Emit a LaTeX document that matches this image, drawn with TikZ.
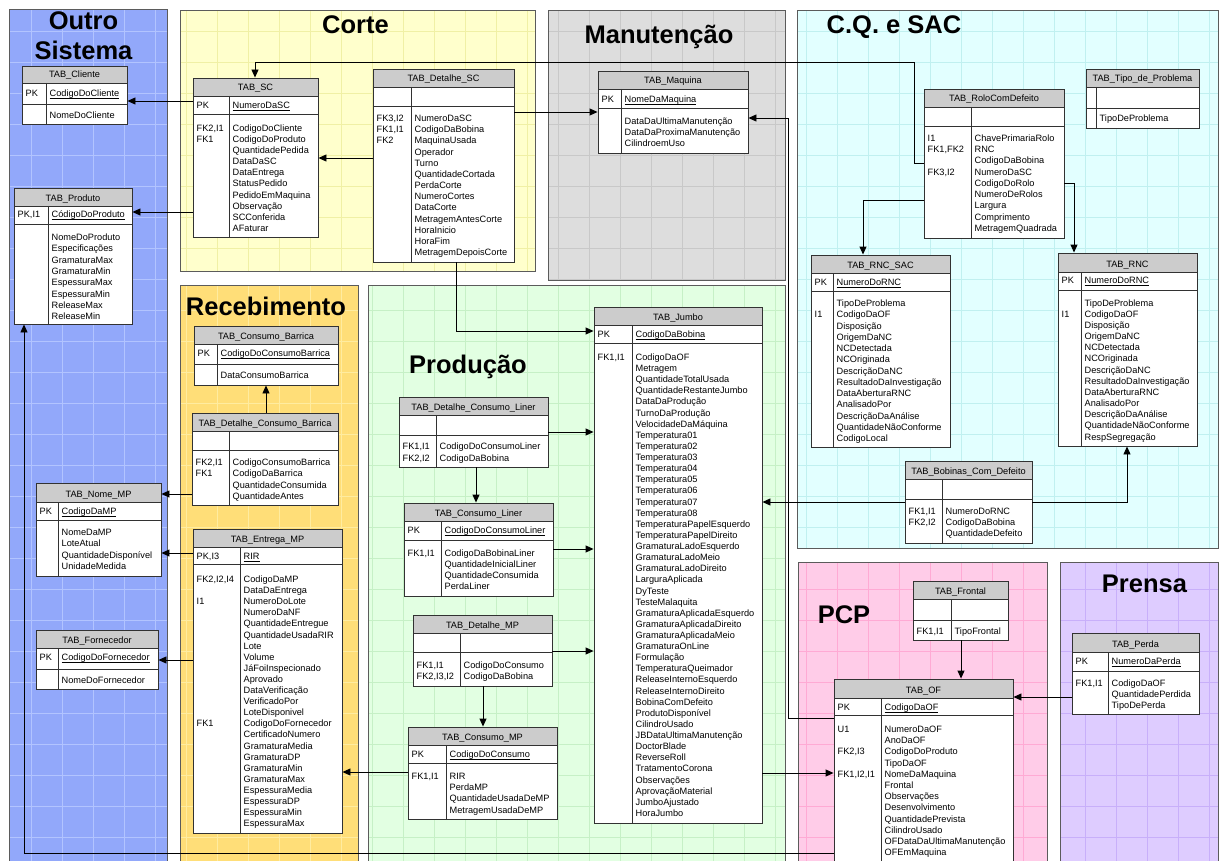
\documentclass[tikz,border=0pt]{standalone}
\usepackage{fontspec}
\setmainfont{Liberation Sans}
\usetikzlibrary{arrows.meta,fit}
\definecolor{cblue}{RGB}{146,168,250}
\definecolor{gblue}{RGB}{178,196,255}
\definecolor{cyel}{RGB}{255,255,204}
\definecolor{gyel}{RGB}{240,240,165}
\definecolor{cgray}{RGB}{221,221,221}
\definecolor{ggray}{RGB}{200,200,200}
\definecolor{ccyan}{RGB}{226,255,255}
\definecolor{gcyan}{RGB}{192,240,240}
\definecolor{cgold}{RGB}{255,222,120}
\definecolor{ggold}{RGB}{255,236,160}
\definecolor{cgreen}{RGB}{226,255,226}
\definecolor{ggreen}{RGB}{198,240,198}
\definecolor{cpink}{RGB}{255,204,232}
\definecolor{gpink}{RGB}{255,170,212}
\definecolor{clav}{RGB}{222,204,255}
\definecolor{glav}{RGB}{200,175,250}
\definecolor{hdrgray}{RGB}{204,204,204}
\definecolor{lineclr}{RGB}{50,50,50}
\newcommand\tabfont{\fontsize{9.2}{11}\selectfont}
\newcommand\bigtitlefont{\bfseries\fontsize{25.5}{28}\selectfont}
\newcommand\ulx[1]{\setbox0\hbox{#1}\rlap{\rule[-1.7pt]{\wd0}{0.6pt}}\box0}
% region: x1 y1 x2 y2 fill grid
\newcommand\region[6]{%
  \fill[#5] (#1,#2) rectangle (#3,#4);
  \begin{scope}
    \clip (#1,#2) rectangle (#3,#4);
    \draw[#6, line width=0.6pt] (#1,#4) grid[step=31pt] (#3,#2);
  \end{scope}
  \draw[regborder] (#1,#2) rectangle (#3,#4);}
% table frame: name x1 x2 xd ytop yh ypk ybot title
\newcommand\tbl[9]{%
  \fill[white] (#2,#5) rectangle (#3,#8);
  \fill[hdrgray] (#2,#5) rectangle (#3,#6);
  \draw[tline] (#2,#6) -- (#3,#6);
  \draw[tline] (#2,#7) -- (#3,#7);
  \draw[tline] (#4,#6) -- (#4,#8);
  \node[tframe, fit={(#2,#5) (#3,#8)}] (#1) {};
  \node[hdrtxt] (#1-t) at ({(#2+#3)/2},{#6-5}) {#9};}
% pk row: name x1 xd y key field
\newcommand\pkrow[6]{%
  \node[txt] (#1-pk) at ({#2+3.5},#4) {#5};
  \node[txt] (#1-pf) at ({#3+3.5},#4) {\ulx{#6}};}
% lines: prefix x y spacing list
\newcommand\lines[5]{%
  \foreach \itm [count=\i from 0] in {#5} {\node[txt] (#1\i) at (#2,{#3+\i*#4}) {\itm};}}
\begin{document}
\begin{tikzpicture}[x=1pt,y=-1pt,
  regborder/.style={draw=lineclr!80, line width=0.9pt},
  tline/.style={draw=lineclr, line width=0.8pt},
  tframe/.style={draw=lineclr, line width=0.9pt, inner sep=0pt, rectangle},
  hdrtxt/.style={anchor=base, inner sep=0pt, font=\tabfont},
  txt/.style={anchor=base west, inner sep=0pt, font=\tabfont},
  ttl/.style={anchor=base, inner sep=0pt, font=\bigtitlefont},
  fk/.style={draw=black, line width=0.9pt, -{Triangle[length=8pt,width=7pt]}}]
\useasboundingbox (0,0) rectangle (1223,861);
\clip (0,0) rectangle (1223,861);
\fill[white] (0,0) rectangle (1223,861);
% regions
\region{9}{9}{167}{875}{cblue}{gblue}
\region{180}{10}{535}{271}{cyel}{gyel}
\region{548}{10}{785}{280}{cgray}{ggray}
\region{797}{10}{1218}{548}{ccyan}{gcyan}
\region{180}{285}{358}{875}{cgold}{ggold}
\region{368}{285}{785}{875}{cgreen}{ggreen}
\region{798}{562}{1047}{875}{cpink}{gpink}
\region{1060}{562}{1218}{875}{clav}{glav}
% titles
\node[ttl] (t-outro) at (83.5,30) {Outro};
\node[ttl] (t-sistema) at (83.5,60) {Sistema};
\node[ttl] (t-corte) at (355.5,34) {Corte};
\node[ttl] (t-manut) at (659,44) {Manutenção};
\node[ttl] (t-cq) at (894,34) {C.Q. e SAC};
\node[ttl] (t-receb) at (266,315) {Recebimento};
\node[ttl] (t-prod) at (468,373) {Produção};
\node[ttl] (t-pcp) at (844,623) {PCP};
\node[ttl] (t-prensa) at (1144.5,592) {Prensa};
% ---- tables ----
\tbl{cliente}{22}{127}{46}{66}{83}{104}{124}{TAB\_Cliente}
\pkrow{cliente}{22}{46}{96.8}{PK}{CodigoDoCliente}
\lines{cliente-f}{49.5}{118.5}{11.2}{NomeDoCliente}

\tbl{produto}{14}{132}{48}{188}{206}{224}{324}{TAB\_Produto}
\pkrow{produto}{14}{48}{217.5}{PK,I1}{CódigoDoProduto}
\lines{produto-f}{51.5}{240.5}{11.3}{NomeDoProduto,Especificações,GramaturaMax,GramaturaMin,EspessuraMax,EspessuraMin,ReleaseMax,ReleaseMin}

\tbl{sc}{193}{318}{229}{78}{96}{114}{237}{TAB\_SC}
\pkrow{sc}{193}{229}{108.5}{PK}{NumeroDaSC}
\lines{sc-k}{196.5}{131.5}{11.1}{{FK2,I1},FK1}
\lines{sc-f}{232.5}{131.5}{11.1}{CodigoDoCliente,CodigoDoProduto,QuantidadePedida,DataDaSC,DataEntrega,StatusPedido,PedidoEmMaquina,Observação,SCConferida,AFaturar}

\tbl{detsc}{373}{514}{411}{69}{87}{106}{262}{TAB\_Detalhe\_SC}
\lines{detsc-k}{376.5}{121.5}{11.17}{{FK3,I2},{FK1,I1},FK2}
\lines{detsc-f}{414.5}{121.5}{11.17}{NumeroDaSC,CodigoDaBobina,MaquinaUsada,Operador,Turno,QuantidadeCortada,PerdaCorte,NumeroCortes,DataCorte,MetragemAntesCorte,HoraInicio,HoraFim,MetragemDepoisCorte}

\tbl{maquina}{598}{748}{621}{71}{89}{108}{153}{TAB\_Maquina}
\pkrow{maquina}{598}{621}{102.5}{PK}{NomeDaMaquina}
\lines{maquina-f}{624.5}{124.5}{11}{DataDaUltimaManutenção,DataDaProximaManutenção,CilindroemUso}

\tbl{tipo}{1086}{1199}{1096}{69}{87}{108}{128}{TAB\_Tipo\_de\_Problema}
\lines{tipo-f}{1099.5}{121.5}{11.2}{TipoDeProblema}

\tbl{rolo}{924}{1064}{971}{89}{107}{126}{238}{TAB\_RoloComDefeito}
\lines{rolo-k}{927.5}{141.5}{11.25}{I1,{FK1,FK2},{},{FK3,I2}}
\lines{rolo-f}{974.5}{141.5}{11.25}{ChavePrimariaRolo,RNC,CodigoDaBobina,NumeroDaSC,CodigoDoRolo,NumeroDeRolos,Largura,Comprimento,MetragemQuadrada}

\tbl{rncsac}{811}{950}{833}{255}{273}{291}{447}{TAB\_RNC\_SAC}
\pkrow{rncsac}{811}{833}{285.5}{PK}{NumeroDoRNC}
\lines{rncsac-k}{814.5}{306.5}{11.25}{{},I1}
\lines{rncsac-f}{836.5}{306.5}{11.25}{TipoDeProblema,CodigoDaOF,Disposição,OrigemDaNC,NCDetectada,NCOriginada,DescriçãoDaNC,ResultadoDaInvestigação,DataAberturaRNC,AnalisadoPor,DescriçãoDaAnálise,QuantidadeNãoConforme,CodigoLocal}

\tbl{rnc}{1058}{1197}{1081}{253}{272}{290}{446}{TAB\_RNC}
\pkrow{rnc}{1058}{1081}{283.5}{PK}{NumeroDoRNC}
\lines{rnc-k}{1061.5}{306}{11.17}{{},I1}
\lines{rnc-f}{1084.5}{306}{11.17}{TipoDeProblema,CodigoDaOF,Disposição,OrigemDaNC,NCDetectada,NCOriginada,DescriçãoDaNC,ResultadoDaInvestigação,DataAberturaRNC,AnalisadoPor,DescriçãoDaAnálise,QuantidadeNãoConforme,RespSegregação}

\tbl{bobdef}{905}{1032}{942}{461}{479}{499}{543}{TAB\_Bobinas\_Com\_Defeito}
\lines{bobdef-k}{908.5}{514.5}{11.1}{{FK1,I1},{FK2,I2}}
\lines{bobdef-f}{945.5}{514.5}{11.1}{NumeroDoRNC,CodigoDaBobina,QuantidadeDefeito}

\tbl{cbarrica}{194}{338}{217}{326}{344}{364}{385}{TAB\_Consumo\_Barrica}
\pkrow{cbarrica}{194}{217}{356.5}{PK}{CodigoDoConsumoBarrica}
\lines{cbarrica-f}{220.5}{378.5}{11.2}{DataConsumoBarrica}

\tbl{dcbarrica}{192}{338}{229}{413}{431}{450}{505}{TAB\_Detalhe\_Consumo\_Barrica}
\lines{dcbarrica-k}{195.5}{465.5}{11.4}{{FK2,I1},FK1}
\lines{dcbarrica-f}{232.5}{465.5}{11.4}{CodigoConsumoBarrica,CodigoDaBarrica,QuantidadeConsumida,QuantidadeAntes}

\tbl{nomemp}{36}{161}{58}{483}{502}{520}{576}{TAB\_Nome\_MP}
\pkrow{nomemp}{36}{58}{514.5}{PK}{CodigoDaMP}
\lines{nomemp-f}{61.5}{535.5}{11.4}{NomeDaMP,LoteAtual,QuantidadeDisponível,UnidadeMedida}

\tbl{entrega}{193}{342}{240}{529}{547}{564}{833}{TAB\_Entrega\_MP}
\pkrow{entrega}{193}{240}{559.5}{PK,I3}{RIR}
\lines{entrega-k}{196.5}{582.5}{11.1}{{FK2,I2,I4},{},I1,{},{},{},{},{},{},{},{},{},{},FK1}
\lines{entrega-f}{243.5}{582.5}{11.1}{CodigoDaMP,DataDaEntrega,NumeroDoLote,NumeroDaNF,QuantidadeEntregue,QuantidadeUsadaRIR,Lote,Volume,JáFoiInspecionado,Aprovado,DataVerificação,VerificadoPor,LoteDisponivel,CodigoDoFornecedor,CertificadoNumero,GramaturaMedia,GramaturaDP,GramaturaMin,GramaturaMax,EspessuraMedia,EspessuraDP,EspessuraMin,EspessuraMax}

\tbl{fornecedor}{36}{158}{58}{630}{648}{669}{689}{TAB\_Fornecedor}
\pkrow{fornecedor}{36}{58}{660.5}{PK}{CodigoDoFornecedor}
\lines{fornecedor-f}{61.5}{683.5}{11.2}{NomeDoFornecedor}

\tbl{dcliner}{399}{548}{436}{397}{415}{435}{467}{TAB\_Detalhe\_Consumo\_Liner}
\lines{dcliner-k}{402.5}{449.5}{11.5}{{FK1,I1},{FK2,I2}}
\lines{dcliner-f}{439.5}{449.5}{11.5}{CodigoDoConsumoLiner,CodigoDaBobina}

\tbl{cliner}{404}{553}{441}{503}{521}{540}{596}{TAB\_Consumo\_Liner}
\pkrow{cliner}{404}{441}{533.5}{PK}{CodigoDoConsumoLiner}
\lines{cliner-k}{407.5}{556.5}{10.9}{{FK1,I1}}
\lines{cliner-f}{444.5}{556.5}{10.9}{CodigoDaBobinaLiner,QuantidadeInicialLiner,QuantidadeConsumida,PerdaLiner}

\tbl{detmp}{413}{552}{460}{615}{633}{652}{686}{TAB\_Detalhe\_MP}
\lines{detmp-k}{416.5}{668.5}{11}{{FK1,I1},{FK2,I3,I2}}
\lines{detmp-f}{463.5}{668.5}{11}{CodigoDoConsumo,CodigoDaBobina}

\tbl{cmp}{408}{557}{446}{727}{745}{763}{819}{TAB\_Consumo\_MP}
\pkrow{cmp}{408}{446}{757.5}{PK}{CodigoDoConsumo}
\lines{cmp-k}{411.5}{779.5}{11.2}{{FK1,I1}}
\lines{cmp-f}{449.5}{779.5}{11.2}{RIR,PerdaMP,QuantidadeUsadaDeMP,MetragemUsadaDeMP}

\tbl{jumbo}{594}{762}{632}{307}{325}{343}{823}{TAB\_Jumbo}
\pkrow{jumbo}{594}{632}{337.5}{PK}{CodigoDaBobina}
\lines{jumbo-k}{597.5}{360.5}{11.12}{{FK1,I1}}
\lines{jumbo-f}{635.5}{360.5}{11.12}{CodigoDaOF,Metragem,QuantidadeTotalUsada,QuantidadeRestanteJumbo,DataDaProdução,TurnoDaProdução,VelocidadeDaMáquina,Temperatura01,Temperatura02,Temperatura03,Temperatura04,Temperatura05,Temperatura06,Temperatura07,Temperatura08,TemperaturaPapelEsquerdo,TemperaturaPapelDireito,GramaturaLadoEsquerdo,GramaturaLadoMeio,GramaturaLadoDireito,LarguraAplicada,DyTeste,TesteMalaquita,GramaturaAplicadaEsquerdo,GramaturaAplicadaDireito,GramaturaAplicadaMeio,GramaturaOnLine,Formulação,TemperaturaQueimador,ReleaseInternoEsquerdo,ReleaseInternoDireito,BobinaComDefeito,ProdutoDisponível,CilindroUsado,JBDataUltimaManutenção,DoctorBlade,ReverseRoll,TratamentoCorona,Observações,AprovaçãoMaterial,JumboAjustado,HoraJumbo}

\tbl{frontal}{913}{1008}{951}{581}{599}{620}{640}{TAB\_Frontal}
\lines{frontal-k}{916.5}{634.5}{11.2}{{FK1,I1}}
\lines{frontal-f}{954.5}{634.5}{11.2}{TipoFrontal}

\tbl{perda}{1072}{1199}{1108}{633}{652}{671}{714}{TAB\_Perda}
\pkrow{perda}{1072}{1108}{664.5}{PK}{NumeroDaPerda}
\lines{perda-k}{1075.5}{686.5}{10.8}{{FK1,I1}}
\lines{perda-f}{1111.5}{686.5}{10.8}{CodigoDaOF,QuantidadePerdida,TipoDePerda}

\tbl{of}{834}{1013}{881}{679}{698}{715}{875}{TAB\_OF}
\pkrow{of}{834}{881}{710.5}{PK}{CodigoDaOF}
\lines{of-k}{837.5}{732.5}{11.2}{U1,{},{FK2,I3},{},{FK1,I2,I1}}
\lines{of-f}{884.5}{732.5}{11.2}{NumeroDaOF,AnoDaOF,CodigoDoProduto,TipoDaOF,NomeDaMaquina,Frontal,Observações,Desenvolvimento,QuantidadePrevista,CilindroUsado,OFDataDaUltimaManutenção,OFEmMaquina}
% ---- connectors ----
\draw[fk] (sc.west |- 0,101) -- (cliente.east |- 0,101);
\draw[fk] (sc.west |- 0,212) -- (produto.east |- 0,212);
\draw[fk] (detsc.west |- 0,158) -- (sc.east |- 0,158);
\draw[fk] (rolo.west |- 0,163) -- (914,163) -- (914,62) -- (255,62) -- (sc.north -| 255,0);
\draw[fk] (detsc.east |- 0,112) -- (maquina.west |- 0,112);
\draw[fk] (of.west |- 0,718) -- (788,718) -- (788,118) -- (maquina.east |- 0,118);
\draw[fk] (dcbarrica.north -| 266,0) -- (cbarrica.south -| 266,0);
\draw[fk] (dcbarrica.west |- 0,494) -- (nomemp.east |- 0,494);
\draw[fk] (entrega.west |- 0,553) -- (nomemp.east |- 0,553);
\draw[fk] (entrega.west |- 0,660) -- (fornecedor.east |- 0,660);
\draw[fk] (cmp.west |- 0,772) -- (entrega.east |- 0,772);
\draw[fk] (detsc.south -| 456,0) -- (456,331) -- (jumbo.west |- 0,331);
\draw[fk] (dcliner.east |- 0,432) -- (jumbo.west |- 0,432);
\draw[fk] (dcliner.south -| 476,0) -- (cliner.north -| 476,0);
\draw[fk] (cliner.east |- 0,549) -- (jumbo.west |- 0,549);
\draw[fk] (detmp.east |- 0,651) -- (jumbo.west |- 0,651);
\draw[fk] (detmp.south -| 483,0) -- (cmp.north -| 483,0);
\draw[fk] (bobdef.west |- 0,502) -- (jumbo.east |- 0,502);
\draw[fk] (bobdef.east |- 0,502) -- (1127,502) -- (rnc.south -| 1127,0);
\draw[fk] (rolo.west |- 0,200) -- (863,200) -- (rncsac.north -| 863,0);
\draw[fk] (rolo.east |- 0,183) -- (1074,183) -- (rnc.north -| 1074,0);
\draw[fk] (frontal.south -| 961,0) -- (of.north -| 961,0);
\draw[fk] (perda.west |- 0,697) -- (of.east |- 0,697);
\draw[fk] (jumbo.east |- 0,773) -- (of.west |- 0,773);
\draw[fk] (of.west |- 0,853) -- (24,853) -- (produto.south -| 24,0);
\end{tikzpicture}
\end{document}
